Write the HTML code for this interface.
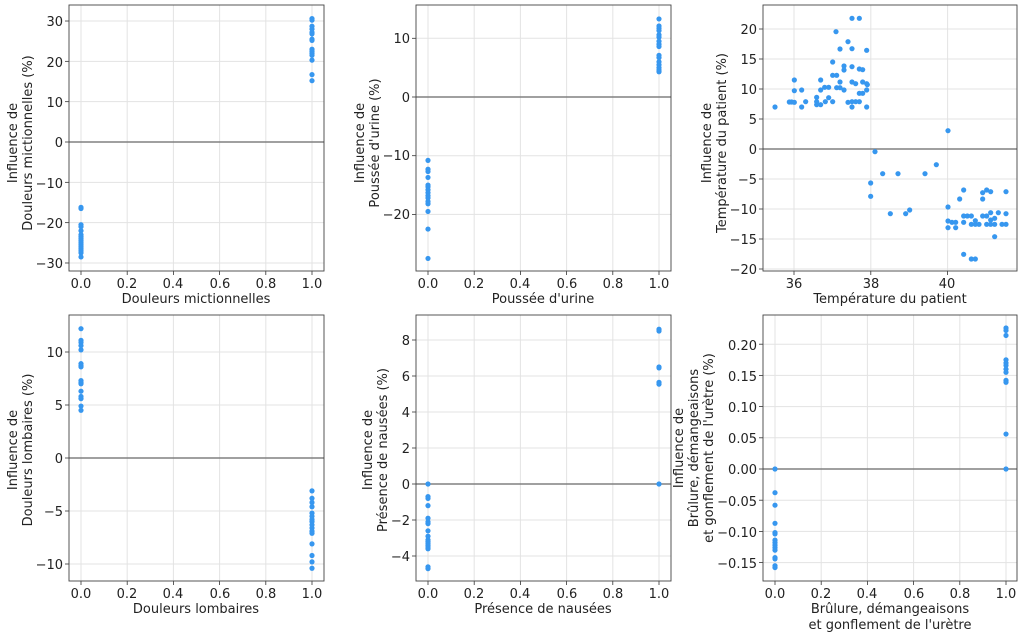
<!DOCTYPE html>
<html><head><meta charset="utf-8"><style>
html,body{margin:0;padding:0;background:#fff;}
svg text{font-family:"DejaVu Sans","Liberation Sans",sans-serif;font-size:13px;fill:#222;}
</style></head><body>
<svg id="s" width="1024" height="637" xmlns="http://www.w3.org/2000/svg">
<g id="g"></g>
<!-- P1 -->
<g text-anchor="end">
<text x="63" y="26">30</text><text x="63" y="67">20</text><text x="63" y="107">10</text><text x="63" y="147">0</text><text x="63" y="188">−10</text><text x="63" y="228">−20</text><text x="63" y="268">−30</text>
<text x="410" y="43">10</text><text x="410" y="102">0</text><text x="410" y="160">−10</text><text x="410" y="219">−20</text>
<text x="757" y="34">20</text><text x="757" y="64">15</text><text x="757" y="94">10</text><text x="757" y="124">5</text><text x="757" y="154">0</text><text x="757" y="184">−5</text><text x="757" y="214">−10</text><text x="757" y="244">−15</text><text x="757" y="274">−20</text>
<text x="63" y="357">10</text><text x="63" y="410">5</text><text x="63" y="463">0</text><text x="63" y="516">−5</text><text x="63" y="569">−10</text>
<text x="410" y="345">8</text><text x="410" y="381">6</text><text x="410" y="417">4</text><text x="410" y="453">2</text><text x="410" y="489">0</text><text x="410" y="525">−2</text><text x="410" y="561">−4</text>
<text x="757" y="350">0.20</text><text x="757" y="381">0.15</text><text x="757" y="412">0.10</text><text x="757" y="443">0.05</text><text x="757" y="474">0.00</text><text x="757" y="506">−0.05</text><text x="757" y="537">−0.10</text><text x="757" y="568">−0.15</text>
</g>
<g text-anchor="middle">
<text x="81" y="288">0.0</text><text x="127" y="288">0.2</text><text x="173" y="288">0.4</text><text x="220" y="288">0.6</text><text x="266" y="288">0.8</text><text x="312" y="288">1.0</text>
<text x="428" y="288">0.0</text><text x="474" y="288">0.2</text><text x="520" y="288">0.4</text><text x="567" y="288">0.6</text><text x="613" y="288">0.8</text><text x="659" y="288">1.0</text>
<text x="794" y="288">36</text><text x="871" y="288">38</text><text x="947" y="288">40</text>
<text x="81" y="598">0.0</text><text x="127" y="598">0.2</text><text x="173" y="598">0.4</text><text x="220" y="598">0.6</text><text x="266" y="598">0.8</text><text x="312" y="598">1.0</text>
<text x="428" y="598">0.0</text><text x="474" y="598">0.2</text><text x="520" y="598">0.4</text><text x="567" y="598">0.6</text><text x="613" y="598">0.8</text><text x="659" y="598">1.0</text>
<text x="775" y="598">0.0</text><text x="821" y="598">0.2</text><text x="867" y="598">0.4</text><text x="914" y="598">0.6</text><text x="960" y="598">0.8</text><text x="1006" y="598">1.0</text>
<text x="196" y="303">Douleurs mictionnelles</text>
<text x="543" y="303">Poussée d'urine</text>
<text x="890" y="303">Température du patient</text>
<text x="196" y="613">Douleurs lombaires</text>
<text x="543" y="613">Présence de nausées</text>
<text x="890" y="613">Brûlure, démangeaisons</text>
<text x="890" y="629">et gonflement de l'urètre</text>
<text transform="translate(17,143) rotate(-90)">Influence de</text>
<text transform="translate(32,143) rotate(-90)">Douleurs mictionnelles (%)</text>
<text transform="translate(364,143) rotate(-90)">Influence de</text>
<text transform="translate(379,143) rotate(-90)">Poussée d'urine (%)</text>
<text transform="translate(711,143) rotate(-90)">Influence de</text>
<text transform="translate(726,143) rotate(-90)">Température du patient (%)</text>
<text transform="translate(17,450) rotate(-90)">Influence de</text>
<text transform="translate(32,450) rotate(-90)">Douleurs lombaires (%)</text>
<text transform="translate(372,450) rotate(-90)">Influence de</text>
<text transform="translate(387,450) rotate(-90)">Présence de nausées (%)</text>
<text transform="translate(683,448) rotate(-90)">Influence de</text>
<text transform="translate(698,448) rotate(-90)">Brûlure, démangeaisons</text>
<text transform="translate(713,448) rotate(-90)">et gonflement de l'urètre (%)</text>
</g>
</svg>
<script>
var g=document.getElementById('g'),NS='http://www.w3.org/2000/svg';
function el(t,a){var e=document.createElementNS(NS,t);for(var k in a)e.setAttribute(k,a[k]);g.appendChild(e);return e;}
function panel(p){
 var x0=p.b[0],x1=p.b[1],y0=p.b[2],y1=p.b[3];
 p.xt.forEach(function(t){var x=p.fx(t);el('line',{x1:x,x2:x,y1:y0,y2:y1,stroke:'#e3e3e3','stroke-width':1});el('line',{x1:x,x2:x,y1:y1,y2:y1+4,stroke:'#333','stroke-width':0.8});});
 p.yt.forEach(function(t){var y=p.fy(t);el('line',{x1:x0,x2:x1,y1:y,y2:y,stroke:'#e3e3e3','stroke-width':1});el('line',{x1:x0-4,x2:x0,y1:y,y2:y,stroke:'#333','stroke-width':0.8});});
 var z=p.fy(0);el('line',{x1:x0,x2:x1,y1:z,y2:z,stroke:'#808080','stroke-width':1.4});
 el('rect',{x:x0,y:y0,width:x1-x0,height:y1-y0,fill:'none',stroke:'#444','stroke-width':0.9});
 p.pts.forEach(function(q){el('circle',{cx:q[0],cy:q[1],r:2.6,fill:'#3797ef'});});
}
function bin(fx,fy,a,b){var r=[];a.forEach(function(v){r.push([fx(0),fy(v)]);});b.forEach(function(v){r.push([fx(1),fy(v)]);});return r;}
var bx=function(o){return function(t){return o+t*231;};};
var ft=[0,0.2,0.4,0.6,0.8,1];
var f1y=function(v){return 142-4.033*v;};
panel({b:[69,324,5,271],fx:bx(81),fy:f1y,xt:ft,yt:[30,20,10,0,-10,-20,-30],
 pts:bin(bx(81),f1y,[-16.2,-16.5,-20.5,-21,-22,-23,-23.5,-24,-24.5,-25,-25.5,-26,-26.5,-27,-27.5,-28.5],[30.6,30.2,28.7,28,27.2,26.8,25.5,25.2,23,22.5,22,21.5,20.3,16.7,15.2])});
var f2y=function(v){return 97-5.87*v;};
panel({b:[416,671,5,271],fx:bx(428),fy:f2y,xt:ft,yt:[10,0,-10,-20],
 pts:bin(bx(428),f2y,[-10.8,-12.3,-12.7,-13.7,-15,-15.3,-15.8,-16.3,-16.8,-17.2,-17.8,-18.2,-19.5,-22.5,-27.5],[13.3,12.1,11.7,11.3,10.6,10.2,9.5,9,8.6,7.1,6.7,6,5.5,5,4.6,4.3])});
var p3=[[225,321],[268,306],[275,306],[283,240],[283,272],[283,307],[305,270],[305,321],[317,305],[350,292],[350,305],[350,314],[362,240],[362,270],[362,314],[374,262],[376,305],[386,262],[386,293],[398,186],[398,226],[398,305],[408,95],[410,226],[410,263],[420,147],[420,246],[420,263],[432,198],[432,210],[432,270],[444,125],[444,307],[456,55],[456,146],[456,200],[456,246],[456,305],[456,321],[467,251],[467,305],[478,55],[478,207],[478,280],[478,305],[488,209],[488,246],[488,280],[500,151],[500,251],[500,270],[500,321],[502,254],[525,455],[512,549],[512,589],[548,521],[571,641],[594,521],[617,641],[629,630],[675,521],[709,494],[744,392],[744,621],[744,663],[744,683],[756,667],[767,667],[767,683],[779,597],[791,570],[791,648],[791,667],[791,763],[802,648],[814,648],[814,673],[814,777],[826,662],[826,673],[826,777],[837,673],[848,578],[848,597],[848,648],[860,570],[860,648],[860,673],[872,575],[872,638],[872,660],[872,673],[884,655],[884,673],[895,638],[884,710],[906,673],[918,575],[918,641],[918,673]].map(function(q){return [700+q[0]/3,q[1]/3];});
panel({b:[763,1017,5,271],fx:function(t){return 794+(t-36)*38.4;},fy:function(v){return 149-6*v;},xt:[36,38,40],yt:[20,15,10,5,0,-5,-10,-15,-20],pts:p3});
var f4y=function(v){return 458-10.6*v;};
panel({b:[69,324,315,581],fx:bx(81),fy:f4y,xt:ft,yt:[10,5,0,-5,-10],
 pts:bin(bx(81),f4y,[12.2,11.1,10.9,10.6,10.2,8.9,8.7,8.6,7.3,7.1,7,6.3,5.8,5.6,4.9,4.5],[-3.1,-3.8,-4.2,-4.6,-5.2,-5.5,-5.8,-6,-6.3,-6.6,-6.9,-7.1,-8.1,-9.2,-9.8,-10.4])});
var f5y=function(v){return 484-18*v;};
panel({b:[416,671,315,581],fx:bx(428),fy:f5y,xt:ft,yt:[8,6,4,2,0,-2,-4],
 pts:bin(bx(428),f5y,[0,-0.7,-0.8,-1.2,-1.9,-2.1,-2.2,-2.6,-2.9,-3.1,-3.2,-3.3,-3.4,-3.5,-3.6,-4.6,-4.7],[8.6,8.5,6.5,6.45,5.65,5.55,0])});
var f6y=function(v){return 469-624*v;};
panel({b:[763,1017,315,581],fx:bx(775),fy:f6y,xt:ft,yt:[0.2,0.15,0.1,0.05,0,-0.05,-0.1,-0.15],
 pts:bin(bx(775),f6y,[0,-0.038,-0.058,-0.087,-0.102,-0.104,-0.114,-0.118,-0.122,-0.126,-0.13,-0.142,-0.144,-0.155,-0.158],[0.226,0.222,0.214,0.175,0.17,0.166,0.16,0.155,0.142,0.139,0.056,0])});
</script>
</body></html>
